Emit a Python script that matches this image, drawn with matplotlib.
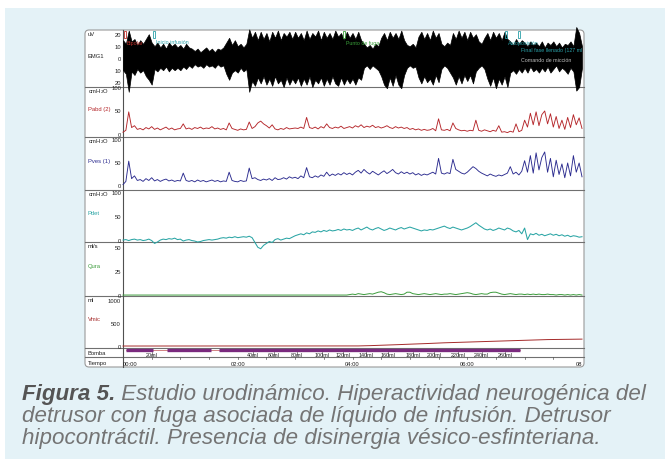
import matplotlib
matplotlib.use('Agg')
import matplotlib.pyplot as plt
import numpy as np
from matplotlib.patches import Rectangle, FancyBboxPatch

W, H = 665, 460

# ---------------- data (time in minutes, 0.05 min grid) ----------------
t = np.linspace(0, 8, 161)

emg_hi = [15, 12, 23, 14, 16, 11, 15, 12, 16, 20, 13, 10, 13, 9, 12, 8, 13, 10, 12, 9,
          11, 8, 12, 9, 8, 6, 8, 5, 7, 9, 6, 8, 5, 8, 7, 9, 13, 17, 11, 15,
          10, 12, 9, 12, 24, 17, 22, 15, 22, 16, 21, 14, 22, 17, 23, 15, 21, 18, 22, 16,
          22, 17, 21, 15, 23, 16, 21, 18, 23, 15, 22, 17, 21, 16, 23, 18, 21, 15, 22, 17,
          21, 16, 22, 15, 12, 9, 11, 8, 12, 10, 17, 21, 15, 22, 17, 21, 16, 23, 15, 11,
          10, 12, 9, 18, 22, 16, 21, 15, 23, 17, 21, 12, 10, 13, 11, 21, 16, 23, 17, 22,
          15, 22, 17, 20, 14, 12, 17, 21, 15, 22, 17, 21, 15, 22, 16, 14, 11, 16, 12, 15,
          13, 10, 14, 11, 13, 10, 14, 9, 13, 11, 14, 10, 13, 9, 12, 11, 14, 10, 26, 21, 10]
emg_lo = [-10, -13, -28, -11, -14, -9, -12, -10, -15, -18, -22, -9, -11, -8, -10, -7, -11, -8, -10, -8,
          -10, -7, -9, -6, -8, -5, -7, -6, -8, -5, -7, -6, -8, -5, -7, -6, -13, -18, -12, -10,
          -12, -8, -11, -9, -28, -19, -23, -16, -21, -15, -22, -17, -23, -15, -21, -18, -24, -16, -22, -17,
          -21, -16, -23, -17, -22, -15, -24, -18, -21, -16, -23, -17, -22, -15, -21, -23, -16, -22, -17, -21,
          -17, -22, -16, -18, -8, -6, -9, -6, -8, -10, -15, -22, -25, -16, -23, -14, -22, -25, -14, -8,
          -6, -8, -7, -16, -21, -15, -20, -17, -22, -14, -20, -9, -6, -8, -12, -16, -22, -15, -21, -14,
          -19, -14, -21, -11, -8, -6, -9, -17, -23, -16, -25, -17, -22, -15, -24, -12, -10, -13, -9, -12,
          -8, -12, -7, -11, -9, -12, -8, -11, -7, -12, -9, -6, -11, -8, -10, -13, -8, -11, -27, -24, -8]

pabd = [4, 8, 48, 14, 18, 10, 12, 9, 14, 11, 16, 10, 13, 9, 12, 15, 10, 13, 9, 11,
        12, 22, 11, 13, 10, 14, 12, 15, 11, 13, 12, 16, 11, 13, 10, 12, 9, 24, 12, 10,
        8, 11, 9, 10, 26, 12, 16, 24, 28, 22, 18, 13, 20, 11, 9, 12, 10, 14, 11, 12,
        13, 12, 15, 12, 36, 14, 12, 15, 11, 16, 13, 22, 14, 12, 15, 13, 17, 12, 14, 16,
        13, 18, 15, 20, 14, 17, 15, 19, 14, 16, 13, 15, 18, 14, 12, 16, 13, 15, 12, 14,
        10, 12, 9, 11, 8, 10, 8, 9, 12, 7, 33, 9, 8, 10, 7, 24, 12, 9, 7, 8,
        6, 8, 7, 30, 8, 6, 9, 7, 5, 8, 6, 18, 4, 5, 3, 6, 4, 22, 5, 8,
        30, 15, 45, 20, 48, 18, 42, 50, 22, 44, 15, 38, 12, 30, 10, 36, 14, 42, 20, 35, 12]

pves = [3, 10, 54, 16, 22, 12, 14, 10, 16, 12, 18, 11, 14, 10, 13, 15, 11, 13, 10, 12,
        11, 28, 12, 10, 12, 9, 13, 10, 12, 9, 11, 13, 10, 12, 9, 11, 10, 30, 12, 10,
        9, 12, 10, 11, 39, 16, 18, 14, 12, 15, 13, 16, 12, 18, 14, 15, 18, 15, 20, 17,
        19, 16, 22, 18, 40, 20, 18, 22, 19, 24, 21, 30, 22, 26, 23, 27, 24, 29, 25, 28,
        24, 30, 34, 28, 36, 30, 26, 32, 28, 24, 29, 33, 27, 31, 36, 29, 26, 31, 27, 30,
        26, 29, 24, 27, 23, 26, 24, 27, 30, 26, 60, 28, 26, 29, 27, 58, 36, 32, 28, 26,
        30, 36, 42, 38, 32, 28, 25, 22, 26, 23, 21, 24, 22, 25, 28, 42, 26, 30, 24, 32,
        55, 30, 66, 28, 72, 35, 62, 74, 30, 60, 20, 56, 25, 48, 18, 50, 22, 66, 30, 50, 20]

pdet = [1, 2, 0, 2, 3, 1, 2, 0, 1, 3, 0, -6, -3, 1, 3, 2, 4, 3, 5, 2,
        3, -1, 1, 2, 0, -1, -3, -2, 0, 1, 2, 1, 2, 3, 5, 6, 5, 7, 6, 8,
        6, 7, 8, 7, 9, 6, -4, -14, -17, -10, -6, -2, -4, 2, 4, 1, 3, 5, 4, 7,
        10, 12, 14, 12, 16, 14, 18, 17, 20, 18, 21, 19, 22, 20, 21, 23, 21, 24, 22, 23,
        21, 24, 26, 22, 25, 28, 24, 22, 25, 27, 24, 21, 23, 26, 24, 22, 25, 27, 24, 26,
        28, 26, 24, 22, 20, 22, 21, 23, 22, 24, 26, 28, 30, 27, 25, 28, 26, 24, 22, 24,
        26, 29, 33, 37, 32, 28, 24, 22, 24, 21, 23, 26, 24, 22, 26, 24, 20, 18, 21, 14,
        26, 2, 14, 12, 15, 11, 13, 10, 12, 14, 11, 13, 10, 12, 9, 11, 8, 10, 9, 7, 8]

qura = [0] * 78 + [0, 0.5,
        1, 0.5, 1.5, 1, 0.5, 1, 1.5, 1, 2, 3, 3.5, 2.5, 1, 0.5, 1, 1.5, 1, 0.5, 1, 3,
        3, 1.5, 1, 0.5, 1, 1.5, 1, 0.5, 1, 1.5, 1, 0.5, 1, 1, 1.5, 1, 0.5, 1, 1.5, 2,
        2.5, 2, 1, 0.5, 1, 1.5, 1, 1, 2.5, 3, 3, 2, 1, 0.5, 1, 1.5, 1, 0.5, 1, 1,
        0.5, 1, 0.5, 1, 0.5, 1, 0.5, 0.5, 1, 0.5, 0.5, 0, 0.5, 0.5, 0, 0.5, 0, 0.5, 0, 0.5, 0]

vmic = [0] * 80 + [
        0, 1, 2, 3, 5, 6, 8, 10, 12, 14, 16, 18, 21, 24, 26, 28, 30, 33, 36, 38,
        40, 42, 44, 47, 50, 52, 54, 57, 60, 62, 64, 67, 70, 72, 74, 76, 78, 80, 82, 84,
        86, 88, 90, 92, 94, 96, 98, 100, 102, 104, 106, 108, 110, 112, 114, 116, 118, 120, 122, 124,
        125, 126, 128, 130, 132, 134, 136, 138, 140, 141, 142, 143, 144, 145, 146, 147, 148, 148, 149, 149, 150]

pump_on_start = [0.05, 0.77, 1.67]
pump_on_end = [0.52, 1.53, 6.92]
pump_vol_labels = ['20ml', '40ml', '60ml', '80ml', '100ml', '120ml', '140ml', '160ml',
                   '180ml', '200ml', '220ml', '240ml', '260ml']
pump_vol_times = [0.50, 2.26, 2.63, 3.03, 3.47, 3.83, 4.23, 4.62, 5.05, 5.42, 5.84, 6.25, 6.66]

time_ticks = [0, 2, 4, 6, 8]
time_labels = ['00:00', '02:00', '04:00', '06:00', '08']

events_t = [0.02, 0.52, 3.83, 6.66, 6.88]
events_lbl = ['Bipolar', 'Inicio infusión', 'Punto de fuga', 'Autoposición', '']
events_col = ['#c0302a', '#2aa0a8', '#3aa03a', '#2aa0a8', '#2aa0a8']

# ---------------- figure ----------------
fig = plt.figure(figsize=(W / 100, H / 100), dpi=100)
SF = ['Liberation Sans', 'DejaVu Sans']
fs_small = 4.2

bg = fig.add_axes([0, 0, 1, 1])
bg.set_xlim(0, W)
bg.set_ylim(H, 0)
bg.axis('off')
bg.add_patch(Rectangle((5, 9), W - 5, H - 9, color='#e4f2f7', lw=0))
bg.add_patch(FancyBboxPatch((85, 31), 499, 337, boxstyle='round,pad=0,rounding_size=4',
                            fc='white', ec='#9a9a9a', lw=0.8))
for yy in [88, 138, 191, 243, 297, 349, 358]:
    bg.plot([85, 584], [yy, yy], color='#707070', lw=0.8)
bg.plot([123, 123], [31, 368], color='#505050', lw=0.8)

X0, X1 = 123, 582


def panel(top, bottom, ylim):
    ax = fig.add_axes([X0 / W, 1 - bottom / H, (X1 - X0) / W, (bottom - top) / H])
    ax.set_xlim(0, 8)
    ax.set_ylim(*ylim)
    ax.axis('off')
    ax.patch.set_alpha(0)
    return ax


def ticklabels(ax, vals, labels):
    for v, lb in zip(vals, labels):
        ax.annotate(lb, xy=(0, v), xycoords=('axes fraction', 'data'), xytext=(-1.5, 0),
                    textcoords='offset points', ha='right', va='center',
                    fontsize=fs_small, family=SF, color='#222222')


def rowlabel(top, bottom, unit, name, color, unit_dy=4):
    if unit:
        bg.text(88, top + unit_dy, unit, fontsize=fs_small, family=SF, color='#222222',
                va='center', ha='left')
    bg.text(88, (top + bottom) / 2 - 3, name, fontsize=fs_small, family=SF, color=color,
            va='center', ha='left')


# EMG
ax_emg = panel(31, 88, (-24, 23.5))
ax_emg.fill_between(t, emg_lo, emg_hi, color='black', lw=0.5, clip_on=False, zorder=2)
ticklabels(ax_emg, [20, 10, 0, -10, -20], ['20', '10', '0', '10', '20'])
rowlabel(31, 88, 'uV', 'EMG1', '#222222')
for et, el, ec in zip(events_t, events_lbl, events_col):
    ax_emg.add_patch(Rectangle((et, 16.5), 0.04, 6.5, fc='none', ec=ec, lw=0.6, zorder=3,
                               clip_on=False))
    if el:
        ax_emg.text(et + 0.05, 13.5, el, fontsize=3.8, family=SF, color=ec, va='center',
                    ha='left', zorder=4)
ax_emg.text(6.94, 7.5, 'Final fase llenado (127 ml)', fontsize=3.8, family=SF,
            color='#2aa0a8', va='center', ha='left', zorder=4, clip_on=True)
ax_emg.text(6.94, -1.5, 'Comando de micción', fontsize=3.8, family=SF,
            color='#bdbdbd', va='center', ha='left', zorder=4)

# Pabd
ax_pabd = panel(88, 138, (-6.5, 102))
ax_pabd.plot(t, pabd, color='#b5262a', lw=0.65, clip_on=False)
ticklabels(ax_pabd, [100, 50, 0], ['100', '50', '0'])
rowlabel(88, 138, 'cmH$_2$O', 'Pabd (2)', '#b5262a')

# Pves
ax_pves = panel(138, 191, (-8.7, 106.5))
ax_pves.plot(t, pves, color='#2b2b8f', lw=0.65, clip_on=False)
ticklabels(ax_pves, [100, 50, 0], ['100', '50', '0'])
rowlabel(138, 191, 'cmH$_2$O', 'Pves (1)', '#2b2b8f')

# Pdet
ax_pdet = panel(191, 243, (-3, 105))
ax_pdet.plot(t, pdet, color='#2aa5a5', lw=0.75, clip_on=False)
ticklabels(ax_pdet, [100, 50, 0], ['100', '50', '0'])
rowlabel(191, 243, 'cmH$_2$O', 'Pdet', '#2aa5a5')

# Qura
ax_q = panel(243, 297, (-1, 56))
ax_q.plot(t, qura, color='#3c9c3c', lw=0.7, clip_on=False)
ticklabels(ax_q, [50, 25, 0], ['50', '25', '0'])
rowlabel(243, 297, 'ml/s', 'Qura', '#3c9c3c')

# Vmic
ax_v = panel(297, 349, (-43, 1087))
ax_v.plot(t, vmic, color='#a52a2a', lw=0.7, clip_on=False)
ticklabels(ax_v, [1000, 500, 0], ['1000', '500', '0'])
rowlabel(297, 349, 'ml', 'Vmic', '#a52a2a')

# Bomba
ax_b = panel(349, 358, (0, 9))
ax_b.plot([0.05, 6.92], [7, 7], color='#c05050', lw=0.5)
for s, e in zip(pump_on_start, pump_on_end):
    ax_b.plot([s, e], [7, 7], color='#7a2a7e', lw=2.4, solid_capstyle='butt')
for vt, vl in zip(pump_vol_times, pump_vol_labels):
    ax_b.plot([vt, vt], [1.5, 5.5], color='#555555', lw=0.5)
    ax_b.text(vt, 2.2, vl, fontsize=3.9, family=SF, color='#222222', ha='center',
              va='center')
bg.text(88, 353.5, 'Bomba', fontsize=fs_small, family=SF, color='#222222', va='center')

# Tiempo
ax_t = panel(358, 368, (0, 10))
for mt in np.arange(0.5, 8, 0.5):
    ax_t.plot([mt, mt], [10, 8], color='#555555', lw=0.5)
for tt, tl in zip(time_ticks, time_labels):
    ha = 'left' if tt == 0 else ('right' if tt == 8 else 'center')
    ax_t.text(tt, 3.5, tl, fontsize=fs_small, family=SF, color='#222222', ha=ha, va='center')
bg.text(88, 363.5, 'Tiempo', fontsize=fs_small, family=SF, color='#222222', va='center')

# ---------------- caption ----------------
CF = ['Liberation Sans', 'DejaVu Sans']
cap1a = 'Figura 5.'
cap1b = ' Estudio urodinámico. Hiperactividad neurogénica del'
cap2 = 'detrusor con fuga asociada de líquido de infusión. Detrusor'
cap3 = 'hipocontráctil. Presencia de disinergia vésico-esfinteriana.'
renderer = fig.canvas.get_renderer()
fs = 14
ta = bg.text(22, 400, cap1a, fontsize=fs, style='italic', weight='bold', color='#555555',
             family=CF, va='baseline', ha='left')
tb = bg.text(22, 400, cap1b, fontsize=fs, style='italic', color='#747474',
             family=CF, va='baseline', ha='left')
wa = ta.get_window_extent(renderer).width
wb = tb.get_window_extent(renderer).width
scale = 626 / (wa + wb)
fs2 = fs * scale
ta.set_fontsize(fs2)
tb.set_fontsize(fs2)
wa = ta.get_window_extent(renderer).width
tb.set_x(22 + wa)
bg.text(22, 422, cap2, fontsize=fs2, style='italic', color='#747474',
        family=CF, va='baseline', ha='left')
bg.text(22, 444, cap3, fontsize=fs2, style='italic', color='#747474',
        family=CF, va='baseline', ha='left')

fig.savefig('out.png', dpi=100)
